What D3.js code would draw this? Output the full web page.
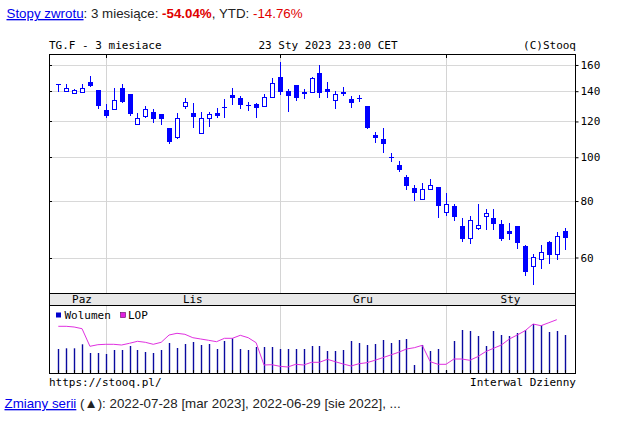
<!DOCTYPE html>
<html>
<head>
<meta charset="utf-8">
<script src="https://cdn.jsdelivr.net/npm/d3@7"></script>
<style>
body { margin: 0; background: #fff; }
svg { display: block; }
.mono { font-family: "DejaVu Sans Mono", monospace; font-size: 11px; fill: #000; }
.sans { font-family: "Liberation Sans", Arial, sans-serif; font-size: 13.33px; fill: #222; }
</style>
</head>
<body>
<div id="graphic"></div>
<script>
// trading days shown (3 months)
var dates = [
  "2022-10-24","2022-10-25","2022-10-26","2022-10-27","2022-10-28","2022-10-31",
  "2022-11-01","2022-11-02","2022-11-03","2022-11-04","2022-11-07","2022-11-08","2022-11-09","2022-11-10","2022-11-11",
  "2022-11-14","2022-11-15","2022-11-16","2022-11-17","2022-11-18","2022-11-21","2022-11-22","2022-11-23","2022-11-24",
  "2022-11-25","2022-11-28","2022-11-29","2022-11-30",
  "2022-12-01","2022-12-02","2022-12-05","2022-12-06","2022-12-07","2022-12-08","2022-12-09","2022-12-12","2022-12-13",
  "2022-12-14","2022-12-15","2022-12-16","2022-12-19","2022-12-20","2022-12-21","2022-12-22","2022-12-23","2022-12-27",
  "2022-12-28","2022-12-29","2022-12-30",
  "2023-01-02","2023-01-03","2023-01-04","2023-01-05","2023-01-06","2023-01-09","2023-01-10","2023-01-11","2023-01-12",
  "2023-01-13","2023-01-16","2023-01-17","2023-01-18","2023-01-19","2023-01-20","2023-01-23"
];

var open = [145.1,139.9,138.8,139.7,146.5,140.9,127.3,127.6,142.1,138.0,118.2,123.5,125.9,124.4,115.8,110.7,
  130.0,125.5,112.9,121.9,125.5,128.8,137.4,135.4,130.5,131.1,130.0,135.7,150.3,140.1,144.5,139.6,139.2,153.4,
  141.6,133.6,139.2,134.5,135.3,129.8,112.1,109.5,99.8,96.2,90.5,85.3,80.7,84.9,85.8,75.7,77.9,70.4,66.3,69.8,
  74.2,73.2,71.1,68.6,70.4,63.6,57.5,59.4,64.8,61.2,68.6];
var high = [145.4,145.2,141.6,145.2,151.5,140.9,131.1,142.3,145.2,138.0,125.1,129.8,127.8,124.4,115.8,125.1,
  135.4,131.6,125.7,126.1,128.7,134.3,142.1,136.6,132.7,131.6,137.8,150.0,162.7,141.4,144.5,141.6,150.3,160.0,
  146.5,140.1,142.8,136.6,137.4,129.8,113.5,115.8,102.0,98.1,91.5,86.9,87.5,89.3,85.8,83.2,79.0,73.2,74.1,78.8,
  76.8,76.8,72.8,71.6,70.4,64.1,61.0,64.1,65.4,68.4,69.6];
var low = [139.8,139.9,138.8,139.7,144.0,128.3,122.9,127.6,132.7,124.1,118.2,122.9,119.8,118.2,107.3,110.1,
  128.7,116.8,112.9,117.4,122.5,122.9,131.4,128.3,127.3,122.9,130.0,135.7,137.8,126.7,134.1,135.0,139.2,136.1,
  136.1,128.7,137.4,129.1,133.4,115.8,108.2,102.5,98.1,93.2,85.0,80.6,80.7,84.9,73.8,74.6,72.8,65.4,64.6,69.4,
  69.4,69.4,65.7,65.9,63.1,55.0,52.3,57.0,58.4,59.4,62.5];
var close = [145.3,142.3,140.9,142.1,144.0,130.0,123.5,133.6,132.7,124.6,121.9,127.6,121.7,121.5,107.9,121.9,
  132.5,122.9,121.9,124.6,123.4,129.0,135.4,130.6,130.7,128.7,136.1,145.7,139.6,136.8,135.0,138.0,149.5,138.9,
  139.6,137.8,137.8,132.0,135.5,116.2,110.1,106.9,100.0,93.8,86.4,83.2,84.9,86.9,78.1,79.0,73.8,65.8,72.8,70.9,
  75.1,71.0,65.9,67.5,64.6,55.7,60.2,61.7,60.9,67.1,66.3];

var volume = [23700,24400,24400,28400,19700,19700,18700,22700,22700,26700,22700,20700,19700,22700,29700,24700,
  28700,30700,27700,28700,23700,31700,34400,23700,22700,25700,25700,25700,23700,23700,23700,23700,26700,26700,
  21700,21700,22700,31700,29700,27700,28700,32700,29700,32700,33700,7700,27700,21700,23700,2400,31700,42700,
  41700,36700,26700,41700,37700,36700,39700,42700,48700,47700,40700,41700,37700];

var lop = [4640,4640,4570,4400,2640,2800,2840,2840,2770,2940,3140,3040,2840,3040,3770,3940,3840,3500,3370,3240,
  3100,3440,3440,3740,3500,3000,770,800,640,570,840,770,1040,1040,1340,1100,870,670,900,1000,1240,1500,1770,
  2040,2370,2500,2740,1100,840,840,1370,1370,1240,1600,2100,2440,2770,3370,3770,4200,4870,4700,5000,5300,null];

var yTicks = [60, 80, 100, 120, 140, 160];
var monthNames = ["Paz", "Lis", "Gru", "Sty"];
var monthStarts = ["2022-10-24", "2022-11-01", "2022-12-01", "2023-01-02"];

var width = 620, height = 421;
var plotL = 49, plotR = 575, plotT = 54, priceBottom = 293.3, bandBottom = 305, volBottom = 372.7;
var blue = "#0000ff";

var svg = d3.select("#graphic")
  .append("svg")
  .attr("width", width)
  .attr("height", height);

var x = d3.scalePoint().domain(dates).range([58.3, 564.7]);
var y = d3.scaleLog().domain([50, 169.2]).range([priceBottom, plotT]);
var yVol = d3.scaleLinear().domain([0, 67700]).range([volBottom, bandBottom]);
var yLop = d3.scaleLinear().domain([0, 6770]).range([volBottom, bandBottom]);

function px(d){ return Math.round(x(d)) + 0.5; }

// Header line
var head = svg.append("text").attr("class", "sans").attr("x", 6.5).attr("y", 18);
head.append("tspan").text("Stopy zwrotu").attr("fill", "#0000ee").attr("text-decoration", "underline");
head.append("tspan").text(": 3 miesiące: ");
head.append("tspan").text("-54.04%").attr("fill", "#e00000").attr("font-weight", "bold");
head.append("tspan").text(", YTD: ");
head.append("tspan").text("-14.76%").attr("fill", "#e00000");

// Title row
svg.append("text").attr("class", "mono").attr("x", plotL).attr("y", 49).text("TG.F - 3 miesiace");
svg.append("text").attr("class", "mono").attr("x", 328).attr("y", 49).attr("text-anchor", "middle").text("23 Sty 2023 23:00 CET");
svg.append("text").attr("class", "mono").attr("x", plotR + 1).attr("y", 49).attr("text-anchor", "end").text("(C)Stooq");

// Grid
svg.append("g")
  .selectAll("line")
  .data(yTicks)
  .enter().append("line")
  .attr("x1", plotL).attr("x2", plotR)
  .attr("y1", function(d){ return Math.round(y(d)) + 0.5; })
  .attr("y2", function(d){ return Math.round(y(d)) + 0.5; })
  .attr("stroke", "#d8d8d8");

var bounds = monthStarts.slice(1);
svg.append("g")
  .selectAll("line")
  .data(bounds)
  .enter().append("line")
  .attr("x1", px).attr("x2", px)
  .attr("y1", plotT).attr("y2", priceBottom)
  .attr("stroke", "#d4d4d4");
svg.append("g")
  .selectAll("line")
  .data(bounds)
  .enter().append("line")
  .attr("x1", px).attr("x2", px)
  .attr("y1", bandBottom).attr("y2", volBottom)
  .attr("stroke", "#d4d4d4");

// Candles
var idx = d3.range(dates.length);
var candles = svg.append("g").attr("class", "candles");

candles.selectAll("line")
  .data(idx)
  .enter().append("line")
  .attr("x1", function(i){ return px(dates[i]); })
  .attr("x2", function(i){ return px(dates[i]); })
  .attr("y1", function(i){ return Math.round(y(high[i])); })
  .attr("y2", function(i){ return Math.round(y(low[i])) + 1; })
  .attr("stroke", blue);

candles.selectAll("rect")
  .data(idx)
  .enter().append("rect")
  .each(function(i){
    var t = Math.round(y(Math.max(open[i], close[i])));
    var b = Math.round(y(Math.min(open[i], close[i])));
    var cx = Math.round(x(dates[i]));
    var r = d3.select(this);
    if (b - t < 2) {
      r.attr("x", cx - 2).attr("y", t).attr("width", 5).attr("height", Math.max(1, b - t)).attr("fill", blue);
    } else if (close[i] < open[i]) {
      r.attr("x", cx - 2).attr("y", t).attr("width", 5).attr("height", b - t).attr("fill", blue);
    } else {
      r.attr("x", cx - 1.5).attr("y", t + 0.5).attr("width", 4).attr("height", b - t)
        .attr("fill", "#fff").attr("stroke", blue);
    }
  });

// Volume
svg.append("g")
  .selectAll("line")
  .data(idx)
  .enter().append("line")
  .attr("x1", function(i){ return px(dates[i]); })
  .attr("x2", function(i){ return px(dates[i]); })
  .attr("y1", function(i){ return yVol(volume[i]); })
  .attr("y2", volBottom)
  .attr("stroke", "#0a0aa0")
  .attr("stroke-width", 1.4);

var lopLine = d3.line()
  .defined(function(i){ return lop[i] != null; })
  .x(function(i){ return x(dates[i]); })
  .y(function(i){ return yLop(lop[i]); });

svg.append("path")
  .datum(idx)
  .attr("d", lopLine)
  .attr("fill", "none")
  .attr("stroke", "#e030e0")
  .attr("stroke-width", 1);

// Legend
svg.append("rect").attr("x", 56).attr("y", 312.5).attr("width", 5).attr("height", 5).attr("fill", "#0000cc");
svg.append("text").attr("class", "mono").attr("x", 64.5).attr("y", 319).text("Wolumen");
svg.append("rect").attr("x", 120.5).attr("y", 312.5).attr("width", 5).attr("height", 5)
  .attr("fill", "#e020e0").attr("stroke", "#600060").attr("stroke-width", 0.6);
svg.append("text").attr("class", "mono").attr("x", 128).attr("y", 319).text("LOP");

// Date band
svg.append("rect")
  .attr("x", plotL + 0.5).attr("y", Math.round(priceBottom) + 0.5)
  .attr("width", plotR - plotL).attr("height", Math.round(bandBottom) - Math.round(priceBottom))
  .attr("fill", "#e8e8e8").attr("stroke", "#000");

var monthPos = monthStarts.map(function(d, i){
  var a = x(d);
  var b = i < monthStarts.length - 1 ? x(monthStarts[i + 1]) : plotR;
  return (a + b) / 2;
});
svg.append("g")
  .selectAll("text")
  .data(monthNames)
  .enter().append("text")
  .attr("class", "mono")
  .attr("x", function(d, i){ return monthPos[i]; })
  .attr("y", 303)
  .attr("text-anchor", "middle")
  .text(function(d){ return d; });

// Frame
svg.append("rect")
  .attr("x", plotL + 0.5).attr("y", plotT + 0.5)
  .attr("width", plotR - plotL).attr("height", Math.round(volBottom) - plotT)
  .attr("fill", "none").attr("stroke", "#000");

// small ticks
svg.append("g")
  .selectAll("line")
  .data(bounds)
  .enter().append("line")
  .attr("x1", px).attr("x2", px)
  .attr("y1", plotT).attr("y2", plotT + 4)
  .attr("stroke", "#000");

svg.append("g")
  .selectAll("line")
  .data(yTicks)
  .enter().append("line")
  .attr("x1", plotL).attr("x2", plotL + 3)
  .attr("y1", function(d){ return Math.round(y(d)) + 0.5; })
  .attr("y2", function(d){ return Math.round(y(d)) + 0.5; })
  .attr("stroke", "#000");

svg.append("g")
  .selectAll("line")
  .data(dates)
  .enter().append("line")
  .attr("x1", px).attr("x2", px)
  .attr("y1", Math.round(volBottom) - 3).attr("y2", Math.round(volBottom))
  .attr("stroke", "#000");

// Y axis
var yAxis = svg.append("g")
  .attr("transform", "translate(" + (plotR + 0.5) + ",0)")
  .call(d3.axisRight(y).tickValues(yTicks).tickSize(3).tickPadding(2).tickFormat(d3.format("d")));
yAxis.select(".domain").remove();
yAxis.selectAll("text").attr("class", "mono");
yAxis.attr("font-family", null).attr("font-size", null);

// Footer
svg.append("text").attr("class", "mono").attr("x", plotL).attr("y", 386).text("https://stooq.pl/");
svg.append("text").attr("class", "mono").attr("x", plotR + 1).attr("y", 386).attr("text-anchor", "end").text("Interwal Dzienny");

var foot = svg.append("text").attr("class", "sans").attr("x", 4.5).attr("y", 408);
foot.append("tspan").text("Zmiany serii").attr("fill", "#0000ee").attr("text-decoration", "underline");
foot.append("tspan").text(" (▲): 2022-07-28 [mar 2023], 2022-06-29 [sie 2022], ...");
</script>
</body>
</html>
